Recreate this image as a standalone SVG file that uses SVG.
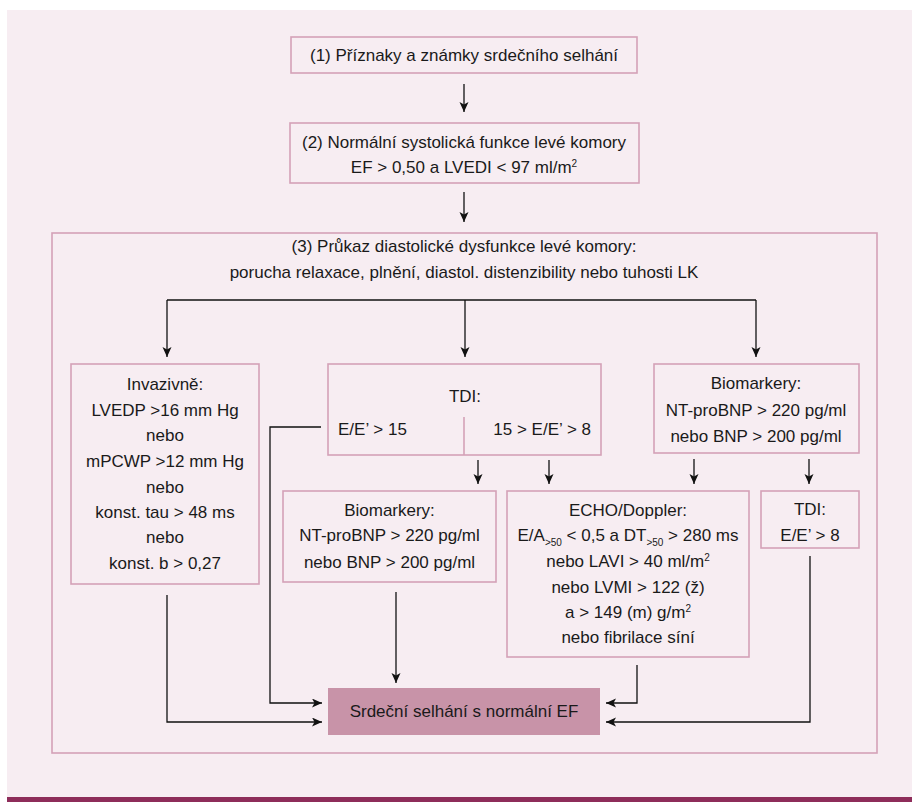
<svg xmlns="http://www.w3.org/2000/svg" width="912" height="802" viewBox="0 0 912 802">
<defs>
<style>
.box{fill:none;stroke:#d4a1b7;stroke-width:1.6}
.t{font-family:"Liberation Sans",Arial,sans-serif;font-size:17px;fill:#1a1a1a}
.c{text-anchor:middle}
.ln{fill:none;stroke:#111;stroke-width:1.3}
.sm{font-size:10px}
</style>
<marker id="ah" markerUnits="userSpaceOnUse" markerWidth="12" markerHeight="10" refX="10" refY="4.5" orient="auto">
<path d="M0,0 L10,4.5 L0,9 L2.5,4.5 z" fill="#111"/>
</marker>
</defs>
<rect x="0" y="0" width="912" height="802" fill="#ffffff"/>
<rect x="7" y="10" width="905" height="787" fill="#f7edf2"/>
<rect x="7" y="797" width="905" height="5" fill="#8e2d5a"/>

<g id="n1">
<rect class="box" x="291" y="37" width="346" height="36"/>
<text class="t c" x="464" y="61">(1) Příznaky a známky srdečního selhání</text>
</g>
<g id="n2">
<rect class="box" x="290" y="123" width="349" height="60"/>
<text class="t c" x="464" y="148">(2) Normální systolická funkce levé komory</text>
<text class="t c" x="464" y="173">EF &gt; 0,50 a LVEDI &lt; 97 ml/m<tspan class="sm" dy="-6">2</tspan></text>
</g>
<g id="n3">
<rect class="box" x="52" y="233" width="825" height="520"/>
<text class="t c" x="464" y="252">(3) Průkaz diastolické dysfunkce levé komory:</text>
<text class="t c" x="464" y="278">porucha relaxace, plnění, diastol. distenzibility nebo tuhosti LK</text>
</g>
<g id="n4">
<rect class="box" x="71" y="364" width="188" height="220"/>
<text class="t c" x="165" y="390">Invazivně:</text>
<text class="t c" x="165" y="416">LVEDP &gt;16 mm Hg</text>
<text class="t c" x="165" y="441">nebo</text>
<text class="t c" x="165" y="467">mPCWP &gt;12 mm Hg</text>
<text class="t c" x="165" y="493">nebo</text>
<text class="t c" x="165" y="518">konst. tau &gt; 48 ms</text>
<text class="t c" x="165" y="543">nebo</text>
<text class="t c" x="165" y="569">konst. b &gt; 0,27</text>
</g>
<g id="n5">
<rect class="box" x="328" y="364" width="273" height="91"/>
<line class="box" x1="464" y1="417" x2="464" y2="455"/>
<text class="t c" x="465" y="402">TDI:</text>
<text class="t" x="338" y="435">E/E’ &gt; 15</text>
<text class="t" x="591" y="435" text-anchor="end">15 &gt; E/E’ &gt; 8</text>
</g>
<g id="n6">
<rect class="box" x="654" y="364" width="205" height="89"/>
<text class="t c" x="756" y="389">Biomarkery:</text>
<text class="t c" x="756" y="416">NT-proBNP &gt; 220 pg/ml</text>
<text class="t c" x="756" y="442">nebo BNP &gt; 200 pg/ml</text>
</g>
<g id="n7">
<rect class="box" x="283" y="491" width="213" height="91"/>
<text class="t c" x="389.5" y="516">Biomarkery:</text>
<text class="t c" x="389.5" y="541">NT-proBNP &gt; 220 pg/ml</text>
<text class="t c" x="389.5" y="568">nebo BNP &gt; 200 pg/ml</text>
</g>
<g id="n8">
<rect class="box" x="507" y="491" width="242" height="166"/>
<text class="t c" x="628" y="516">ECHO/Doppler:</text>
<text class="t c" x="628" y="541">E/A<tspan class="sm" dy="5">&gt;50</tspan><tspan dy="-5"> &lt; 0,5 a DT</tspan><tspan class="sm" dy="5">&gt;50</tspan><tspan dy="-5"> &gt; 280 ms</tspan></text>
<text class="t c" x="628" y="567">nebo LAVI &gt; 40 ml/m<tspan class="sm" dy="-6">2</tspan></text>
<text class="t c" x="628" y="593">nebo LVMI &gt; 122 (ž)</text>
<text class="t c" x="628" y="618">a &gt; 149 (m) g/m<tspan class="sm" dy="-6">2</tspan></text>
<text class="t c" x="628" y="643">nebo fibrilace síní</text>
</g>
<g id="n9">
<rect class="box" x="761" y="491" width="98" height="57"/>
<text class="t c" x="810" y="515">TDI:</text>
<text class="t c" x="810" y="541">E/E’ &gt; 8</text>
</g>
<g id="n10">
<rect x="328" y="688" width="272" height="47" fill="#c893a8"/>
<text class="t c" x="464" y="717">Srdeční selhání s normální EF</text>
</g>

<g id="connectors">
<path class="ln" d="M464,84 V112" marker-end="url(#ah)"/>
<path class="ln" d="M464,192 V222" marker-end="url(#ah)"/>
<path class="ln" d="M167,300 H756"/>
<path class="ln" d="M167,300 V357" marker-end="url(#ah)"/>
<path class="ln" d="M465,300 V357" marker-end="url(#ah)"/>
<path class="ln" d="M756,300 V357" marker-end="url(#ah)"/>
<path class="ln" d="M478,460 V484" marker-end="url(#ah)"/>
<path class="ln" d="M549,460 V484" marker-end="url(#ah)"/>
<path class="ln" d="M694,459 V484" marker-end="url(#ah)"/>
<path class="ln" d="M809,459 V484" marker-end="url(#ah)"/>
<path class="ln" d="M167,595 V722 H322" marker-end="url(#ah)"/>
<path class="ln" d="M321,427 H270 V703 H322" marker-end="url(#ah)"/>
<path class="ln" d="M396,592 V683" marker-end="url(#ah)"/>
<path class="ln" d="M637,665 V703 H606" marker-end="url(#ah)"/>
<path class="ln" d="M810,556 V722 H606" marker-end="url(#ah)"/>
</g>
</svg>
